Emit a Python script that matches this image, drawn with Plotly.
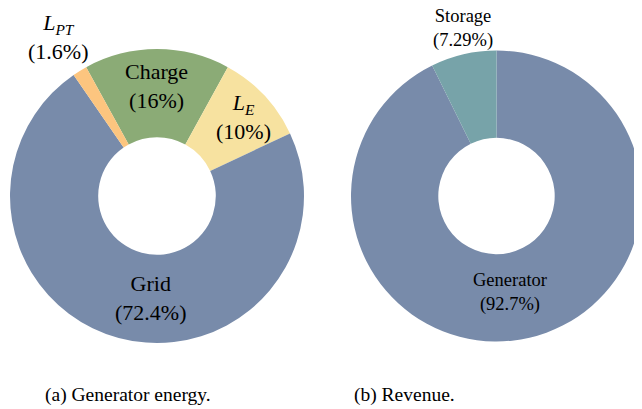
import plotly.graph_objects as go

# the page body adds an 8px margin, so the figure is 8px smaller and shifted
OFF = 8
W, H = 642 - OFF, 409 - OFF

# (a) generator energy
energy_labels = ["Charge", "<i>L</i><sub><i>E</i></sub>", "Grid", "<i>L</i><sub><i>PT</i></sub>"]
energy_pct = [16, 10, 72.4, 1.6]
energy_text = ["16%", "10%", "72.4%", "1.6%"]
energy_colors = ["#8BAB76", "#F7E2A0", "#788BAA", "#FCC57F"]

# (b) revenue
revenue_labels = ["Generator", "Storage"]
revenue_pct = [92.7, 7.29]
revenue_text = ["92.7%", "7.29%"]
revenue_colors = ["#788BAA", "#77A3A9"]

captions = ["(a) Generator energy.", "(b) Revenue."]

SERIF = "Liberation Serif"


def px_x(x):
    return (x - OFF) / W


def px_y(y):
    return 1 - (y - OFF) / H


fig = go.Figure()
fig.add_trace(go.Pie(
    values=energy_pct, labels=energy_labels, sort=False, direction="clockwise",
    rotation=-28.8, hole=0.4, textinfo="none",
    marker=dict(colors=energy_colors, line=dict(width=0)),
    domain=dict(x=[px_x(10), px_x(304)], y=[px_y(343), px_y(49)]),
))
fig.add_trace(go.Pie(
    values=revenue_pct, labels=revenue_labels, sort=False, direction="clockwise",
    rotation=0, hole=0.4, textinfo="none",
    marker=dict(colors=revenue_colors, line=dict(width=0)),
    domain=dict(x=[px_x(351), 1], y=[px_y(342), px_y(50)]),
))

# label positions in pixels (centre of the two-line block)
energy_pos = [(156, 86), (243, 117), (150, 298), (58, 37)]
revenue_pos = [(510, 292), (463, 29)]

for lab, txt, (x, y) in zip(energy_labels, energy_text, energy_pos):
    fig.add_annotation(x=px_x(x), y=px_y(y), xref="paper", yref="paper",
                       text=f"{lab}<br>({txt})", showarrow=False, borderpad=0,
                       xanchor="center", yanchor="middle",
                       font=dict(family=SERIF, size=22, color="black"))
for lab, txt, (x, y) in zip(revenue_labels, revenue_text, revenue_pos):
    fig.add_annotation(x=px_x(x), y=px_y(y), xref="paper", yref="paper",
                       text=f"{lab}<br>({txt})", showarrow=False, borderpad=0,
                       xanchor="center", yanchor="middle",
                       font=dict(family=SERIF, size=18.5, color="black"))

for cap, x in zip(captions, [128, 404]):
    fig.add_annotation(x=px_x(x), y=px_y(395), xref="paper", yref="paper",
                       text=cap, showarrow=False, xanchor="center", yanchor="middle",
                       font=dict(family=SERIF, size=19.5, color="black"))

fig.update_layout(width=W, height=H, margin=dict(l=0, r=0, t=0, b=0),
                  showlegend=False, paper_bgcolor="white", plot_bgcolor="white",
                  font=dict(family=SERIF))

fig.write_html("out.html")
